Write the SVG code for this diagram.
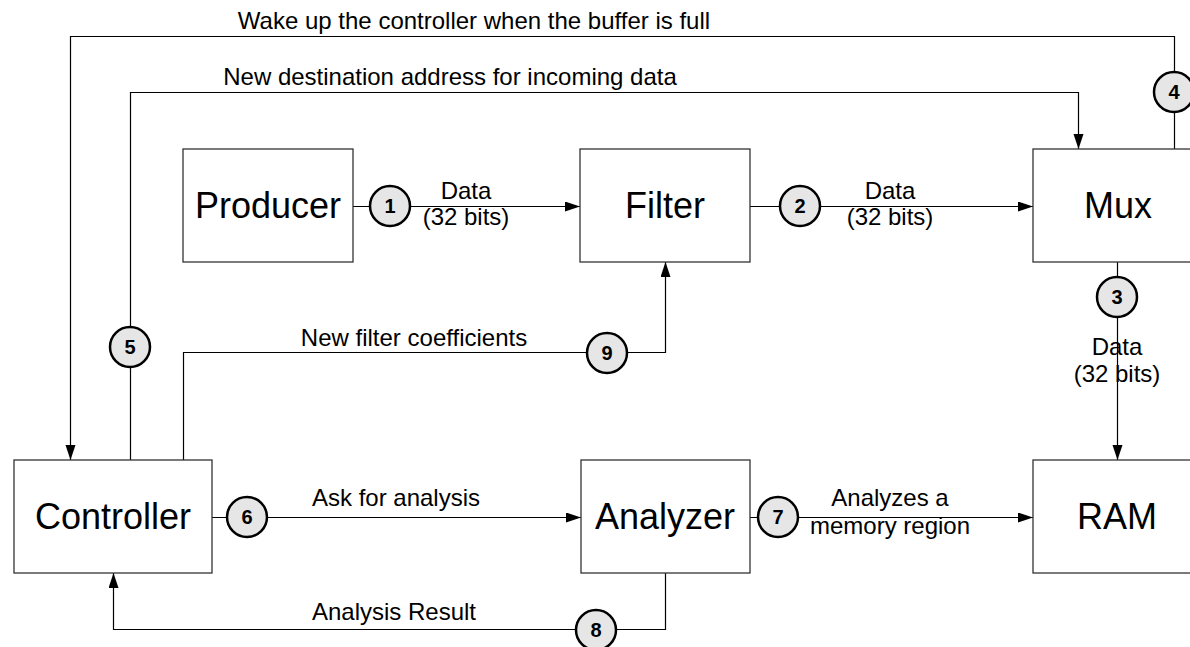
<svg xmlns="http://www.w3.org/2000/svg" width="1190" height="647" viewBox="0 0 1190 647">
<style>
.box{fill:#fff;stroke:#333;stroke-width:1.3}
.bl{font-family:"Liberation Sans",Arial,sans-serif;font-size:36px;text-anchor:middle;fill:#000}
.lbl{font-family:"Liberation Sans",Arial,sans-serif;font-size:24px;text-anchor:middle;fill:#000}
.wire{fill:none;stroke:#000;stroke-width:1.2}
.badge circle{fill:#e6e6e6;stroke:#000;stroke-width:2.5}
.badge text{font-family:"Liberation Sans",Arial,sans-serif;font-size:20px;font-weight:bold;text-anchor:middle;fill:#000}
</style>
<defs>
<marker id="ah" markerUnits="userSpaceOnUse" markerWidth="16" markerHeight="11" refX="15" refY="5" orient="auto">
<path d="M0,0 L15,5 L0,10 z" fill="#000"/>
</marker>
</defs>
<rect width="1190" height="647" fill="#fff"/>
<g id="connectors">
<path class="wire" marker-end="url(#ah)" d="M353,206.5 H580"/>
<path class="wire" marker-end="url(#ah)" d="M750,206.5 H1033"/>
<path class="wire" marker-end="url(#ah)" d="M1117.5,262 V460"/>
<path class="wire" marker-end="url(#ah)" d="M1174.5,149 V36.5 H70.5 V460"/>
<path class="wire" marker-end="url(#ah)" d="M130.5,460 V92.5 H1078.5 V149"/>
<path class="wire" marker-end="url(#ah)" d="M212,517.5 H581"/>
<path class="wire" marker-end="url(#ah)" d="M750,517.5 H1033"/>
<path class="wire" marker-end="url(#ah)" d="M665.5,573 V629.5 H113.5 V573"/>
<path class="wire" marker-end="url(#ah)" d="M183.5,460 V352.5 H665.5 V262"/>
<text class="lbl" x="466" y="199">Data</text>
<text class="lbl" x="466" y="225">(32 bits)</text>
<text class="lbl" x="890" y="199">Data</text>
<text class="lbl" x="890" y="225">(32 bits)</text>
<text class="lbl" x="1117" y="355">Data</text>
<text class="lbl" x="1117" y="382">(32 bits)</text>
<text class="lbl" x="474" y="29">Wake up the controller when the buffer is full</text>
<text class="lbl" x="450" y="85">New destination address for incoming data</text>
<text class="lbl" x="414" y="346">New filter coefficients</text>
<text class="lbl" x="396" y="506">Ask for analysis</text>
<text class="lbl" x="890" y="506">Analyzes a</text>
<text class="lbl" x="890" y="534">memory region</text>
<text class="lbl" x="394" y="620">Analysis Result</text>
</g>
<g id="producer"><rect class="box" x="183" y="149" width="170" height="113"/><text class="bl" x="268" y="218">Producer</text></g>
<g id="filter"><rect class="box" x="580" y="149" width="170" height="113"/><text class="bl" x="665" y="218">Filter</text></g>
<g id="mux"><rect class="box" x="1033" y="149" width="170" height="113"/><text class="bl" x="1118" y="218">Mux</text></g>
<g id="controller"><rect class="box" x="14" y="460" width="198" height="113"/><text class="bl" x="113" y="529">Controller</text></g>
<g id="analyzer"><rect class="box" x="581" y="460" width="169" height="113"/><text class="bl" x="665" y="529">Analyzer</text></g>
<g id="ram"><rect class="box" x="1033" y="460" width="170" height="113"/><text class="bl" x="1117" y="529">RAM</text></g>
<g id="b1" class="badge"><circle cx="390" cy="206" r="20"/><text x="390" y="213">1</text></g>
<g id="b2" class="badge"><circle cx="800" cy="206" r="20"/><text x="800" y="213">2</text></g>
<g id="b3" class="badge"><circle cx="1117" cy="297" r="20"/><text x="1117" y="304">3</text></g>
<g id="b4" class="badge"><circle cx="1174" cy="92" r="20"/><text x="1174" y="99">4</text></g>
<g id="b5" class="badge"><circle cx="130" cy="347" r="20"/><text x="130" y="354">5</text></g>
<g id="b6" class="badge"><circle cx="247" cy="517" r="20"/><text x="247" y="524">6</text></g>
<g id="b7" class="badge"><circle cx="778" cy="517" r="20"/><text x="778" y="524">7</text></g>
<g id="b8" class="badge"><circle cx="596" cy="630" r="20"/><text x="596" y="637">8</text></g>
<g id="b9" class="badge"><circle cx="607" cy="353" r="20"/><text x="607" y="360">9</text></g>
</svg>
